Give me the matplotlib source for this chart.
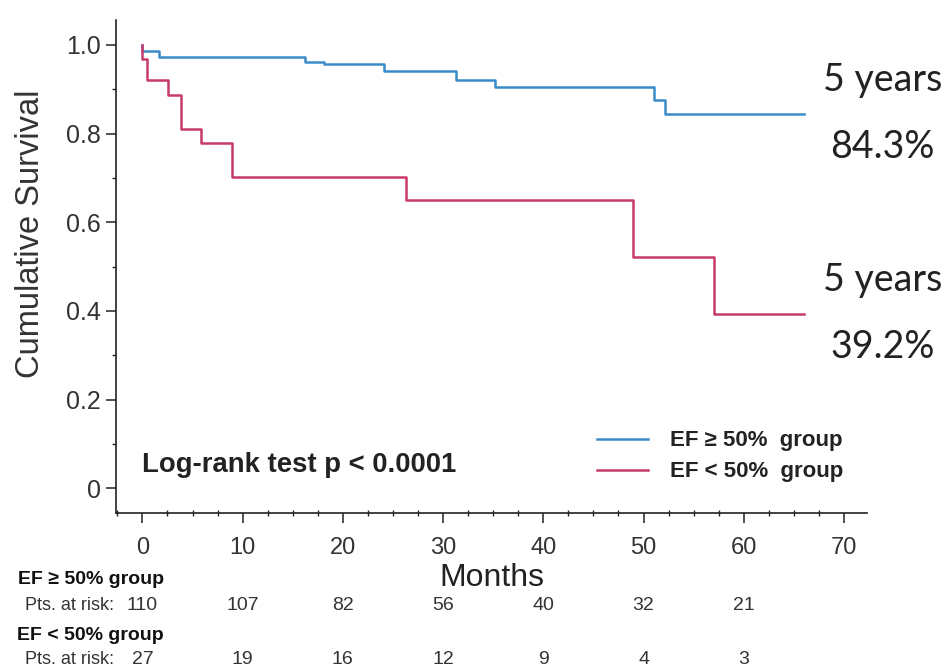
import matplotlib
matplotlib.use("Agg")
import matplotlib.pyplot as plt
from matplotlib import font_manager
from matplotlib.transforms import blended_transform_factory
from matplotlib.ticker import MultipleLocator, FixedLocator

# Kaplan-Meier steps read per group (months, cumulative survival)
pres_months = [0, 0, 1.7, 16.2, 18.1, 24.1, 31.3, 35.2, 51.0, 52.1, 66]
pres_surv = [1.0, 0.987, 0.972, 0.962, 0.956, 0.940, 0.920, 0.904, 0.876, 0.843, 0.843]
red_months = [0, 0, 0.5, 2.6, 3.8, 5.8, 8.9, 26.3, 49.0, 57.0, 66]
red_surv = [1.0, 0.968, 0.921, 0.886, 0.810, 0.778, 0.703, 0.650, 0.522, 0.392, 0.392]

group_labels = ["EF \u2265 50%  group", "EF < 50%  group"]
five_year = ["84.3%", "39.2%"]

risk_months = [0, 10, 20, 30, 40, 50, 60]
risk_pres = [110, 107, 82, 56, 40, 32, 21]
risk_red = [27, 19, 16, 12, 9, 4, 3]

y_ticks = [0, 0.2, 0.4, 0.6, 0.8, 1.0]
y_ticklabels = ["0", "0.2", "0.4", "0.6", "0.8", "1.0"]
x_ticks = [0, 10, 20, 30, 40, 50, 60, 70]

BLUE = "#3a8cc8"
RED = "#c8396c"

names = {f.name for f in font_manager.fontManager.ttflist}
NARROW = "Liberation Sans Narrow" if "Liberation Sans Narrow" in names else "Liberation Sans"
plt.rcParams["font.family"] = ["Liberation Sans", "DejaVu Sans"]

fig = plt.figure(figsize=(9.49, 6.69), dpi=100)
ax = fig.add_axes([0.1222, 0.2332, 0.7914, 0.7368])

ax.step(pres_months, pres_surv, where="post", color=BLUE, lw=1.8, label=group_labels[0])
ax.step(red_months, red_surv, where="post", color=RED, lw=1.8, label=group_labels[1])

ax.set_xlim(-2.64, 72.3)
ax.set_ylim(-0.056, 1.056)

for s in ["top", "right"]:
    ax.spines[s].set_visible(False)
for s in ["left", "bottom"]:
    ax.spines[s].set_linewidth(1.2)
    ax.spines[s].set_color("#222222")

ax.yaxis.set_major_locator(FixedLocator(y_ticks))
ax.set_yticklabels(y_ticklabels)
ax.yaxis.set_minor_locator(FixedLocator([0.1, 0.3, 0.5, 0.7, 0.9]))
ax.xaxis.set_major_locator(FixedLocator(x_ticks))
ax.xaxis.set_minor_locator(MultipleLocator(2.5))

ax.tick_params(axis="y", which="major", length=7, width=1.1, labelsize=18,
               labelcolor="#333333", color="#222222", pad=4)
ax.tick_params(axis="y", which="minor", length=3, width=1.0, color="#222222")
ax.tick_params(axis="x", which="major", length=7, width=1.1, labelsize=17,
               labelcolor="#333333", color="#222222", pad=10)
ax.tick_params(axis="x", which="minor", direction="inout", length=5, width=1.0,
               color="#222222")
for lab in ax.get_xticklabels():
    lab.set_family(NARROW)

ax.set_ylabel("Cumulative Survival", fontsize=23.5, color="#333333")
ax.yaxis.set_label_coords(-0.093, 0.566)
ax.set_xlabel("Months", fontsize=23, color="#222222", labelpad=3)

ax.text(0.035, 0.097, "Log-rank test p < 0.0001", transform=ax.transAxes,
        fontsize=19.8, fontweight="bold", color="#222222", va="center", ha="left")

leg = ax.legend(loc="center left", bbox_to_anchor=(0.64, 0.115), frameon=False,
                fontsize=16, handlelength=2.3, handletextpad=1.0, labelspacing=0.45,
                borderpad=0, borderaxespad=0)
for t in leg.get_texts():
    t.set_fontweight("bold")
    t.set_color("#222222")

# five-year survival notes at the curve ends
note_kw = dict(fontsize=27, family="Lato", color="#222222", ha="center", va="center")
fig.text(0.930, 1 - 80 / 669, "5 years", **note_kw)
fig.text(0.930, 1 - 147 / 669, five_year[0], **note_kw)
fig.text(0.930, 1 - 280 / 669, "5 years", **note_kw)
fig.text(0.930, 1 - 347 / 669, five_year[1], **note_kw)

# number-at-risk table under the axis
trans = blended_transform_factory(ax.transData, fig.transFigure)
rows = [(group_labels[0].replace("  ", " "), risk_pres, 580, 605),
        (group_labels[1].replace("  ", " "), risk_red, 635, 660)]
for name, counts, y_name, y_cnt in rows:
    fig.text(164 / 949, 1 - y_name / 669, name, fontsize=14, fontweight="bold",
             family=NARROW, color="#111111", ha="right", va="center")
    fig.text(114 / 949, 1 - y_cnt / 669, "Pts. at risk:", fontsize=13,
             family=NARROW, color="#333333", ha="right", va="center")
    for m, c in zip(risk_months, counts):
        ax.text(m, 1 - y_cnt / 669, str(c), transform=trans, fontsize=14,
                family=NARROW, color="#333333", ha="center", va="center",
                clip_on=False)

fig.savefig("out.png", dpi=100)
